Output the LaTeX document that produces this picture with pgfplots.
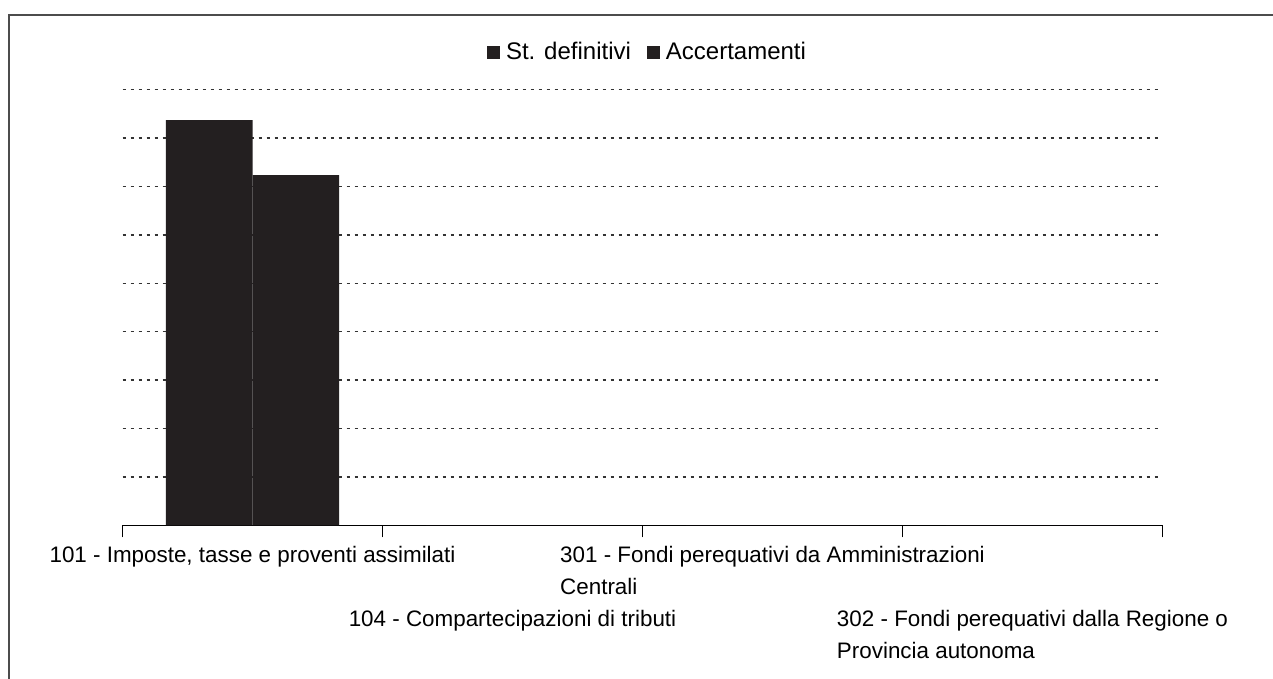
\documentclass[border=0pt]{standalone}
\usepackage{pgfplots}
\pgfplotsset{compat=1.18}
\usepackage{fontspec}
\setmainfont{Liberation Sans}
\definecolor{barfill}{HTML}{231F20}
\begin{document}
\begin{tikzpicture}
\path[use as bounding box] (0,0) rectangle (636.5pt,339.5pt);
% frame of the scanned chart
\draw[black!70, line width=0.6pt] (4.5pt,0pt) -- (4.5pt,332pt) -- (636.5pt,332pt);
\begin{axis}[
    at={(61.25pt,76.75pt)}, anchor=south west,
    scale only axis,
    clip=false,
    width=520pt, height=218pt,
    xmin=-0.5, xmax=3.5,
    ymin=0, ymax=90,
    axis x line*=bottom,
    axis y line*=left,
    y axis line style={draw=none},
    x axis line style={black, line width=0.7pt},
    xtick={-0.5,0.5,1.5,2.5,3.5},
    xticklabels={},
    x tick style={black, line width=0.6pt},
    tick align=outside,
    major tick length=6pt,
    ytick={10,20,...,90},
    yticklabels={},
    y tick style={draw=none},
    ymajorgrids,
    y grid style={black!80, line width=0.7pt, dash pattern=on 1.5pt off 2.5pt},
    legend style={at={(0.5,1)}, anchor=center, xshift=3pt, yshift=18.5pt, draw=none,
        font=\fontsize{12pt}{14pt}\selectfont,
        /tikz/every odd column/.append style={column sep=1pt},
        /tikz/every even column/.append style={column sep=6pt}},
    legend columns=-1,
    legend image code/.code={\fill[barfill] (0pt,-3.25pt) rectangle (6.5pt,3.25pt);},
]
\addplot[ybar, bar width=0.333, bar shift=-0.1665, fill=barfill, draw=none]
    coordinates {(0,83.7) (1,0) (2,0) (3,0)};
\addlegendentry{St. definitivi}
\addplot[ybar, bar width=0.333, bar shift=0.1665, fill=barfill, draw=none]
    coordinates {(0,72.3) (1,0) (2,0) (3,0)};
\addlegendentry{Accertamenti}

% category labels, staggered as in the source chart (base = last line)
\begin{scope}[every node/.style={font=\fontsize{11.2pt}{16.25pt}\selectfont, align=left, anchor=base, inner sep=0pt}]
\node[yshift=-18.75pt] at (axis cs:0,0) {101 - Imposte, tasse e proventi assimilati};
\node[yshift=-50.75pt] at (axis cs:1,0) {104 - Compartecipazioni di tributi};
\node[yshift=-34.75pt] at (axis cs:2,0) {301 - Fondi perequativi da Amministrazioni\\Centrali};
\node[yshift=-66.75pt] at (axis cs:3,0) {302 - Fondi perequativi dalla Regione o\\Provincia autonoma};
\end{scope}
\end{axis}
\end{tikzpicture}
\end{document}
